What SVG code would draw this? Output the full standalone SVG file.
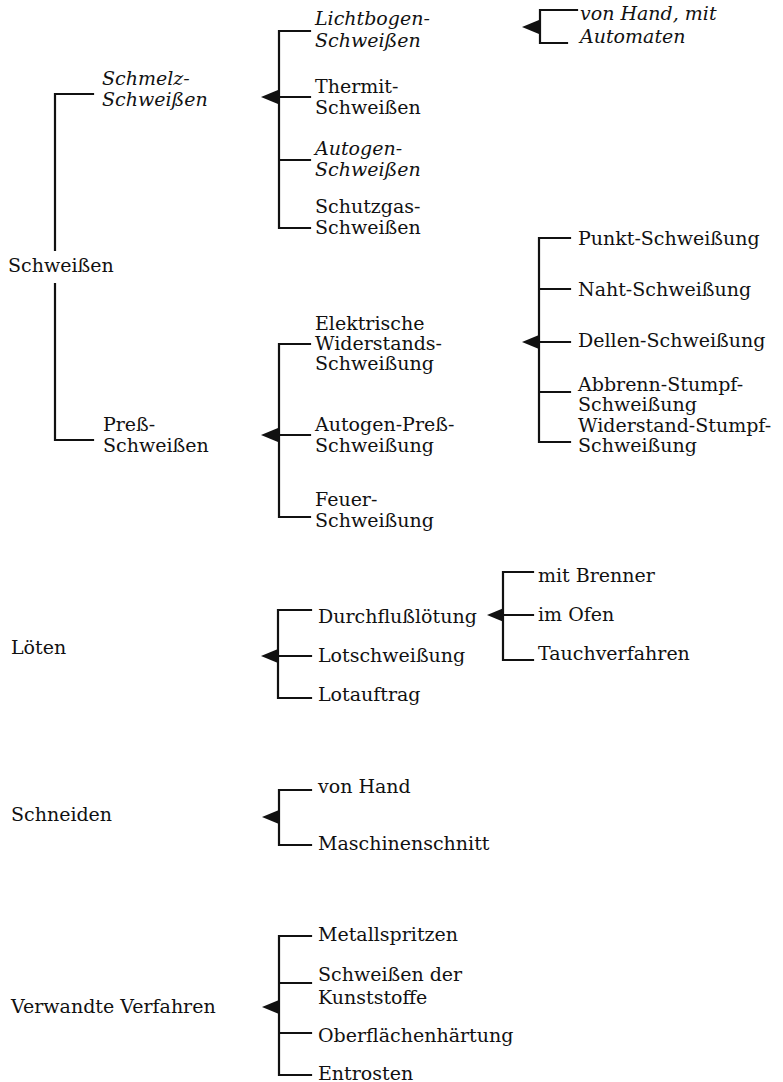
<svg xmlns="http://www.w3.org/2000/svg" xmlns:xlink="http://www.w3.org/1999/xlink" width="783" height="1082" viewBox="0 0 783 1082">
<style>
.t{font-family:"DejaVu Serif","Liberation Serif",serif;font-size:19px;fill:#111}
.i{font-style:italic}
.ln{stroke:#111;stroke-width:2.2;fill:none;stroke-linecap:square}
.ar{fill:#111}
</style>
<defs>
<path id="arr" d="M0,0 L17,-7 L17,7 Z"/>
</defs>
<rect width="783" height="1082" fill="#fff"/>
<g id="connectors">
<path class="ln" d="M93,94 H55 V250 M55,284 V440 H93"/>
<path class="ln" d="M310,31 H279 V228 H310 M279,97 H310 M279,160 H310"/>
<path class="ln" d="M577,10 H540 V43 H567"/>
<path class="ln" d="M310,344 H279 V517 H310 M279,435 H310"/>
<path class="ln" d="M570,238 H539 V442 H570 M539,289 H570 M539,342 H570 M539,392 H570"/>
<path class="ln" d="M311,610 H278 V698 H311 M278,656 H311"/>
<path class="ln" d="M533,572 H503 V660 H533 M503,615 H533"/>
<path class="ln" d="M311,790 H279 V845 H311"/>
<path class="ln" d="M311,936 H279 V1075 H311 M279,983 H311 M279,1033 H311"/>
<use href="#arr" class="ar" x="261" y="97"/>
<use href="#arr" class="ar" x="522" y="27"/>
<use href="#arr" class="ar" x="261" y="435"/>
<use href="#arr" class="ar" x="522" y="342"/>
<use href="#arr" class="ar" x="261" y="656"/>
<use href="#arr" class="ar" x="487" y="615"/>
<use href="#arr" class="ar" x="262" y="817"/>
<use href="#arr" class="ar" x="262" y="1007"/>
</g>
<g id="n-schweissen"><text class="t" x="8" y="272">Schweißen</text></g>
<g id="n-schmelz"><text class="t i" x="102" y="85">Schmelz-</text><text class="t i" x="102" y="106">Schweißen</text></g>
<g id="n-press"><text class="t" x="103" y="431">Preß-</text><text class="t" x="103" y="452">Schweißen</text></g>
<g id="n-lichtbogen"><text class="t i" x="315" y="25">Lichtbogen-</text><text class="t i" x="315" y="47">Schweißen</text></g>
<g id="n-thermit"><text class="t" x="315" y="93">Thermit-</text><text class="t" x="315" y="114">Schweißen</text></g>
<g id="n-autogen"><text class="t i" x="315" y="155">Autogen-</text><text class="t i" x="315" y="176">Schweißen</text></g>
<g id="n-schutzgas"><text class="t" x="315" y="213">Schutzgas-</text><text class="t" x="315" y="234">Schweißen</text></g>
<g id="n-vonhandmit"><text class="t i" x="580" y="20">von Hand, mit</text><text class="t i" x="580" y="43">Automaten</text></g>
<g id="n-elektrische"><text class="t" x="315" y="330">Elektrische</text><text class="t" x="315" y="350">Widerstands-</text><text class="t" x="315" y="370">Schweißung</text></g>
<g id="n-autogenpress"><text class="t" x="315" y="431">Autogen-Preß-</text><text class="t" x="315" y="452">Schweißung</text></g>
<g id="n-feuer"><text class="t" x="315" y="506">Feuer-</text><text class="t" x="315" y="527">Schweißung</text></g>
<g id="n-punkt"><text class="t" x="578" y="245">Punkt-Schweißung</text></g>
<g id="n-naht"><text class="t" x="578" y="296">Naht-Schweißung</text></g>
<g id="n-dellen"><text class="t" x="578" y="347">Dellen-Schweißung</text></g>
<g id="n-abbrenn"><text class="t" x="578" y="391">Abbrenn-Stumpf-</text><text class="t" x="578" y="411">Schweißung</text></g>
<g id="n-widerstand"><text class="t" x="578" y="432">Widerstand-Stumpf-</text><text class="t" x="578" y="452">Schweißung</text></g>
<g id="n-loeten"><text class="t" x="11" y="654">Löten</text></g>
<g id="n-durchfluss"><text class="t" x="318" y="623">Durchflußlötung</text></g>
<g id="n-lotschweissung"><text class="t" x="318" y="662">Lotschweißung</text></g>
<g id="n-lotauftrag"><text class="t" x="318" y="701">Lotauftrag</text></g>
<g id="n-brenner"><text class="t" x="538" y="582">mit Brenner</text></g>
<g id="n-ofen"><text class="t" x="538" y="621">im Ofen</text></g>
<g id="n-tauch"><text class="t" x="538" y="660">Tauchverfahren</text></g>
<g id="n-schneiden"><text class="t" x="11" y="821">Schneiden</text></g>
<g id="n-vonhand"><text class="t" x="318" y="793">von Hand</text></g>
<g id="n-maschinen"><text class="t" x="318" y="850">Maschinenschnitt</text></g>
<g id="n-verwandte"><text class="t" x="11" y="1013">Verwandte Verfahren</text></g>
<g id="n-metall"><text class="t" x="318" y="941">Metallspritzen</text></g>
<g id="n-kunststoffe"><text class="t" x="318" y="981">Schweißen der</text><text class="t" x="318" y="1004">Kunststoffe</text></g>
<g id="n-oberflaeche"><text class="t" x="318" y="1042">Oberflächenhärtung</text></g>
<g id="n-entrosten"><text class="t" x="318" y="1080">Entrosten</text></g>
</svg>
